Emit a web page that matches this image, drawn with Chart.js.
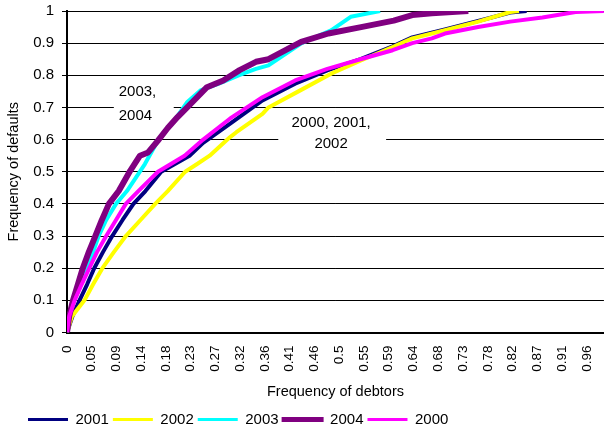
<!DOCTYPE html>
<html>
<head>
<meta charset="utf-8">
<script src="https://cdn.jsdelivr.net/npm/chart.js@4.4.1/dist/chart.umd.min.js"></script>
<style>
  body { margin: 0; background: #fff; }
  canvas { display: block; }
</style>
</head>
<body>
<canvas id="cap" width="616" height="431"></canvas>
<script>
// series: x = frequency of debtors, y = frequency of defaults
var x2001 = [0, 0.010, 0.023, 0.037, 0.050, 0.066, 0.083, 0.102, 0.122, 0.144, 0.173, 0.225, 0.250, 0.299, 0.359, 0.419, 0.478, 0.539, 0.598, 0.634, 0.694, 0.755, 0.814, 0.844]
var y2001 = [0, 0.05, 0.10, 0.15, 0.20, 0.25, 0.30, 0.35, 0.40, 0.44, 0.50, 0.55, 0.59, 0.649, 0.722, 0.774, 0.815, 0.85, 0.89, 0.918, 0.943, 0.969, 0.995, 1.0]

var x2002 = [0, 0.009, 0.032, 0.048, 0.065, 0.086, 0.108, 0.135, 0.162, 0.185, 0.217, 0.239, 0.262, 0.299, 0.311, 0.359, 0.370, 0.425, 0.485, 0.545, 0.598, 0.634, 0.694, 0.755, 0.814, 0.830]
var y2002 = [0, 0.05, 0.10, 0.15, 0.20, 0.25, 0.30, 0.35, 0.40, 0.44, 0.50, 0.524, 0.55, 0.607, 0.623, 0.68, 0.70, 0.75, 0.805, 0.85, 0.888, 0.915, 0.94, 0.967, 0.997, 1.0]

var x2003 = [0, 0.004, 0.011, 0.023, 0.038, 0.048, 0.058, 0.072, 0.090, 0.110, 0.143, 0.167, 0.197, 0.221, 0.245, 0.280, 0.323, 0.347, 0.370, 0.431, 0.485, 0.521, 0.575]
var y2003 = [0, 0.05, 0.10, 0.15, 0.20, 0.25, 0.30, 0.35, 0.40, 0.44, 0.524, 0.597, 0.659, 0.717, 0.753, 0.775, 0.805, 0.82, 0.831, 0.90, 0.94, 0.982, 1.0]

var x2004 = [0, 0.004, 0.011, 0.020, 0.029, 0.040, 0.052, 0.064, 0.077, 0.095, 0.116, 0.134, 0.149, 0.167, 0.185, 0.203, 0.227, 0.257, 0.287, 0.317, 0.347, 0.370, 0.430, 0.480, 0.540, 0.600, 0.634, 0.670, 0.700, 0.737]
var y2004 = [0, 0.05, 0.10, 0.15, 0.20, 0.25, 0.30, 0.35, 0.40, 0.44, 0.503, 0.55, 0.56, 0.597, 0.636, 0.67, 0.711, 0.763, 0.784, 0.816, 0.842, 0.85, 0.904, 0.93, 0.95, 0.97, 0.9875, 0.993, 0.996, 1.0]

var x2000 = [0, 0.004, 0.014, 0.027, 0.041, 0.055, 0.072, 0.090, 0.108, 0.131, 0.149, 0.167, 0.216, 0.250, 0.299, 0.359, 0.419, 0.478, 0.539, 0.598, 0.634, 0.670, 0.694, 0.755, 0.814, 0.873, 0.934, 0.986]
var y2000 = [0, 0.05, 0.10, 0.15, 0.20, 0.25, 0.30, 0.35, 0.40, 0.44, 0.47, 0.50, 0.55, 0.60, 0.665, 0.732, 0.784, 0.82, 0.85, 0.878, 0.90, 0.915, 0.93, 0.95, 0.967, 0.98, 0.997, 1.0]

var seriesNames = ['2001', '2002', '2003', '2004', '2000']
var seriesX = [x2001, x2002, x2003, x2004, x2000]
var seriesY = [y2001, y2002, y2003, y2004, y2000]

// category ticks on the x axis (every 1/22 of the range)
var xTickLabels = ['0', '0.05', '0.09', '0.14', '0.18', '0.23', '0.27', '0.32', '0.36', '0.41', '0.46',
                   '0.5', '0.55', '0.59', '0.64', '0.68', '0.73', '0.78', '0.82', '0.87', '0.91', '0.96']

var noteTexts = [['2003,', '2004'], ['2000, 2001,', '2002']]

var colors = ['#000080', '#FFFF00', '#00FFFF', '#800080', '#FF00FF']
var widths = [4, 4, 4, 6, 4]

var datasets = []
for (var i = 0; i < seriesNames.length; i++) {
    var pts = []
    for (var j = 0; j < seriesX[i].length; j++) {
        pts.push({ x: seriesX[i][j], y: seriesY[i][j] })
    }
    datasets.push({
        label: seriesNames[i],
        data: pts,
        borderColor: colors[i],
        backgroundColor: colors[i],
        borderWidth: widths[i],
        borderJoinStyle: 'round',
        pointRadius: 0,
        tension: 0,
        order: seriesNames.length - i   // 2000 ends up drawn on top, like the original
    })
}

// annotation boxes, placed in data units
var notes = [
    { lines: noteTexts[0], box: [0.086, 0.778, 0.196, 0.644], tx: 0.095, align: 'left', ty: [0.747, 0.675] },
    { lines: noteTexts[1], box: [0.388, 0.6875, 0.586, 0.55], tx: 0.485, align: 'center', ty: [0.653, 0.5875] }
]

var notesPlugin = {
    id: 'notes',
    beforeDatasetsDraw: function(chart) {
        var ctx = chart.ctx
        var xs = chart.scales.x, ys = chart.scales.y
        ctx.save()
        ctx.font = '15px "Liberation Sans", Arial, sans-serif'
        ctx.textBaseline = 'middle'
        notes.forEach(function(n) {
            var l = xs.getPixelForValue(n.box[0]), t = ys.getPixelForValue(n.box[1])
            var r = xs.getPixelForValue(n.box[2]), b = ys.getPixelForValue(n.box[3])
            ctx.fillStyle = '#fff'
            ctx.fillRect(l, t, r - l, b - t)
            ctx.fillStyle = '#000'
            ctx.textAlign = n.align
            n.lines.forEach(function(s, k) {
                ctx.fillText(s, xs.getPixelForValue(n.tx), ys.getPixelForValue(n.ty[k]))
            })
        })
        ctx.restore()
    }
}

var legendShift = {
    id: 'legendShift',
    afterLayout: function(chart) {
        chart.legend.left += 24
        chart.legend.top += 6
        chart.legend.bottom += 6
    }
}

Chart.defaults.font.family = '"Liberation Sans", Arial, sans-serif'
Chart.defaults.color = '#000'

new Chart(document.getElementById('cap'), {
    type: 'line',
    data: { datasets: datasets },
    plugins: [notesPlugin, legendShift],
    options: {
        responsive: false,
        animation: false,
        layout: { padding: { top: 11, right: 0, left: 0, bottom: 0 } },
        plugins: {
            tooltip: { enabled: false },
            legend: {
                position: 'bottom',
                align: 'start',
                labels: {
                    boxWidth: 40,
                    boxHeight: 3,
                    padding: 4,
                    font: { size: 15 },
                    generateLabels: function(chart) {
                        return chart.data.datasets.map(function(ds, i) {
                            return {
                                text: ds.label,
                                fillStyle: ds.borderColor,
                                strokeStyle: ds.borderColor,
                                lineWidth: ds.label === '2004' ? 2 : 0,
                                hidden: false,
                                datasetIndex: i
                            }
                        })
                    }
                }
            }
        },
        scales: {
            x: {
                type: 'linear',
                min: 0,
                max: 0.986,
                afterFit: function(s) { s.height = 69.5 },
                afterBuildTicks: function(s) {
                    s.ticks = xTickLabels.map(function(lbl, k) { return { value: k / 22 } })
                },
                ticks: {
                    autoSkip: false,
                    minRotation: 90,
                    maxRotation: 90,
                    padding: 13,
                    font: { size: 13.5 },
                    callback: function(v, idx) { return xTickLabels[idx] }
                },
                grid: { display: false, drawTicks: false },
                border: { display: true, color: '#000', width: 2 },
                title: {
                    display: true,
                    text: 'Frequency of debtors',
                    font: { size: 14.5, lineHeight: 1 },
                    padding: { top: 0, bottom: 3 }
                }
            },
            y: {
                min: 0,
                max: 1,
                afterFit: function(s) {
                    s.width = 67
                    s.paddingTop = 0
                    s.paddingBottom = 0
                },
                ticks: {
                    stepSize: 0.1,
                    padding: 8,
                    font: { size: 15 },
                    callback: function(v) { return String(Math.round(v * 10) / 10) }
                },
                grid: { color: '#000', lineWidth: 1, tickLength: 5 },
                border: { display: true, color: '#000', width: 2 },
                title: {
                    display: true,
                    text: 'Frequency of defaults',
                    font: { size: 14.5 },
                    padding: { top: 5, bottom: 0 }
                }
            }
        }
    }
})
</script>
</body>
</html>
